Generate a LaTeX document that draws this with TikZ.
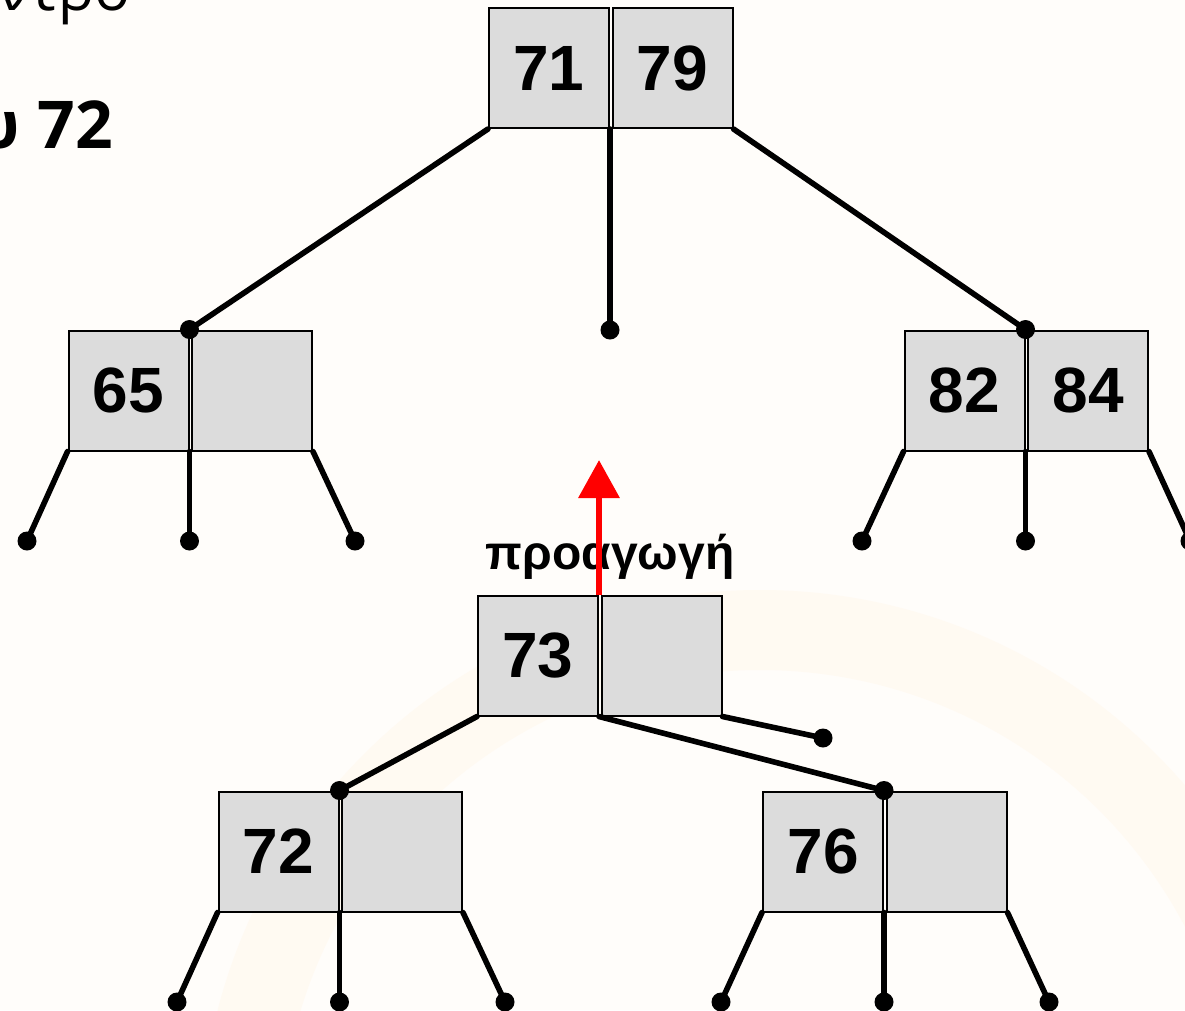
\documentclass[tikz,border=0pt]{standalone}
\usepackage{fontspec}
\setmainfont{Liberation Sans}
\newfontfamily\slidefont{Open Sans}
\usetikzlibrary{arrows.meta}
\definecolor{bgcol}{RGB}{255,253,250}
\definecolor{arccol}{RGB}{255,250,242}
\definecolor{cellgray}{RGB}{220,220,220}
\tikzset{
  cell/.style={draw=black, line width=2pt, fill=cellgray, minimum width=120pt,
    minimum height=120pt, inner sep=0pt, font=\fontsize{64}{64}\selectfont\bfseries},
  link/.style={line width=5.6pt, line cap=round},
  tip/.style={circle, fill=black, minimum size=19pt, inner sep=0pt},
}
\begin{document}
\begin{tikzpicture}[x=1pt, y=-1pt]
\useasboundingbox (0,0) rectangle (1185,1010);
\clip (0,0) rectangle (1185,1010);
\fill[bgcol] (0,0) rectangle (1185,1010);
\draw[arccol, line width=80pt] (760,1150) circle[radius=520];

% slide text, partly outside the picture
\node[anchor=base east, inner sep=0pt, font=\slidefont\fontsize{60}{60}\selectfont] (w1) at (131,10) {ντρο};
\node[anchor=base east, inner sep=0pt, font=\slidefont\fontsize{66}{66}\selectfont\bfseries] (w2) at (113,148) {υ 72};

% cells
\node[cell] (t1) at (549,68) {71};
\node[cell] (t2) at (672.5,68) {79};
\node[cell] (a1) at (128.5,390.5) {65};
\node[cell] (a2) at (252,390.5) {};
\node[cell] (c1) at (964.5,390.5) {82};
\node[cell] (c2) at (1088,390.5) {84};
\node[cell] (m1) at (538,655.5) {73};
\node[cell] (m2) at (661.5,655.5) {};
\node[cell] (l1) at (278.5,851.5) {72};
\node[cell] (l2) at (402,851.5) {};
\node[cell] (r1) at (823,851.5) {76};
\node[cell] (r2) at (946.5,851.5) {};

% free ends
\coordinate (a0) at (27,541);
\coordinate (ar) at (355,541);
\coordinate (c0) at (862,541);
\coordinate (cr) at (1190,541);
\coordinate (mr) at (823,738);
\coordinate (l0) at (177,1002);
\coordinate (lr) at (505,1002);
\coordinate (r0) at (721,1002);
\coordinate (rr) at (1049,1002);
\coordinate (tm) at (t1.south east |- 0,330);
\coordinate (am) at (a1.south east |- a0);
\coordinate (cm) at (c1.south east |- c0);
\coordinate (lm) at (l1.south east |- l0);
\coordinate (rm) at (r1.south east |- r0);

% connectors
\draw[link] (t1.south west) -- (a1.north east);
\draw[link] (t1.south east) -- (tm);
\draw[link] (t2.south east) -- (c1.north east);
\draw[link] (a1.south west) -- (a0);
\draw[link] (a1.south east) -- (am);
\draw[link] (a2.south east) -- (ar);
\draw[link] (c1.south west) -- (c0);
\draw[link] (c1.south east) -- (cm);
\draw[link] (c2.south east) -- (cr);
\draw[link] (m1.south west) -- (l1.north east);
\draw[link] (m1.south east) -- (r1.north east);
\draw[link] (m2.south east) -- (mr);
\draw[link] (l1.south west) -- (l0);
\draw[link] (l1.south east) -- (lm);
\draw[link] (l2.south east) -- (lr);
\draw[link] (r1.south west) -- (r0);
\draw[link] (r1.south east) -- (rm);
\draw[link] (r2.south east) -- (rr);

% dots
\foreach \p in {tm,a0,am,ar,c0,cm,cr,mr,l0,lm,lr,r0,rm,rr}
  \node[tip] at (\p) {};
\node[tip] at (a1.north east) {};
\node[tip] at (c1.north east) {};
\node[tip] at (l1.north east) {};
\node[tip] at (r1.north east) {};

% promotion label and arrow
\node[anchor=base, inner sep=0pt, font=\fontsize{48}{48}\selectfont\bfseries] (lab) at (610,569) {προαγωγή};
\coordinate (arrtop) at (m1.north east |- 0,460);
\draw[red, line width=6.5pt, -{Triangle[width=40pt,length=38pt]}] (m1.north east) -- (arrtop);
\end{tikzpicture}
\end{document}
